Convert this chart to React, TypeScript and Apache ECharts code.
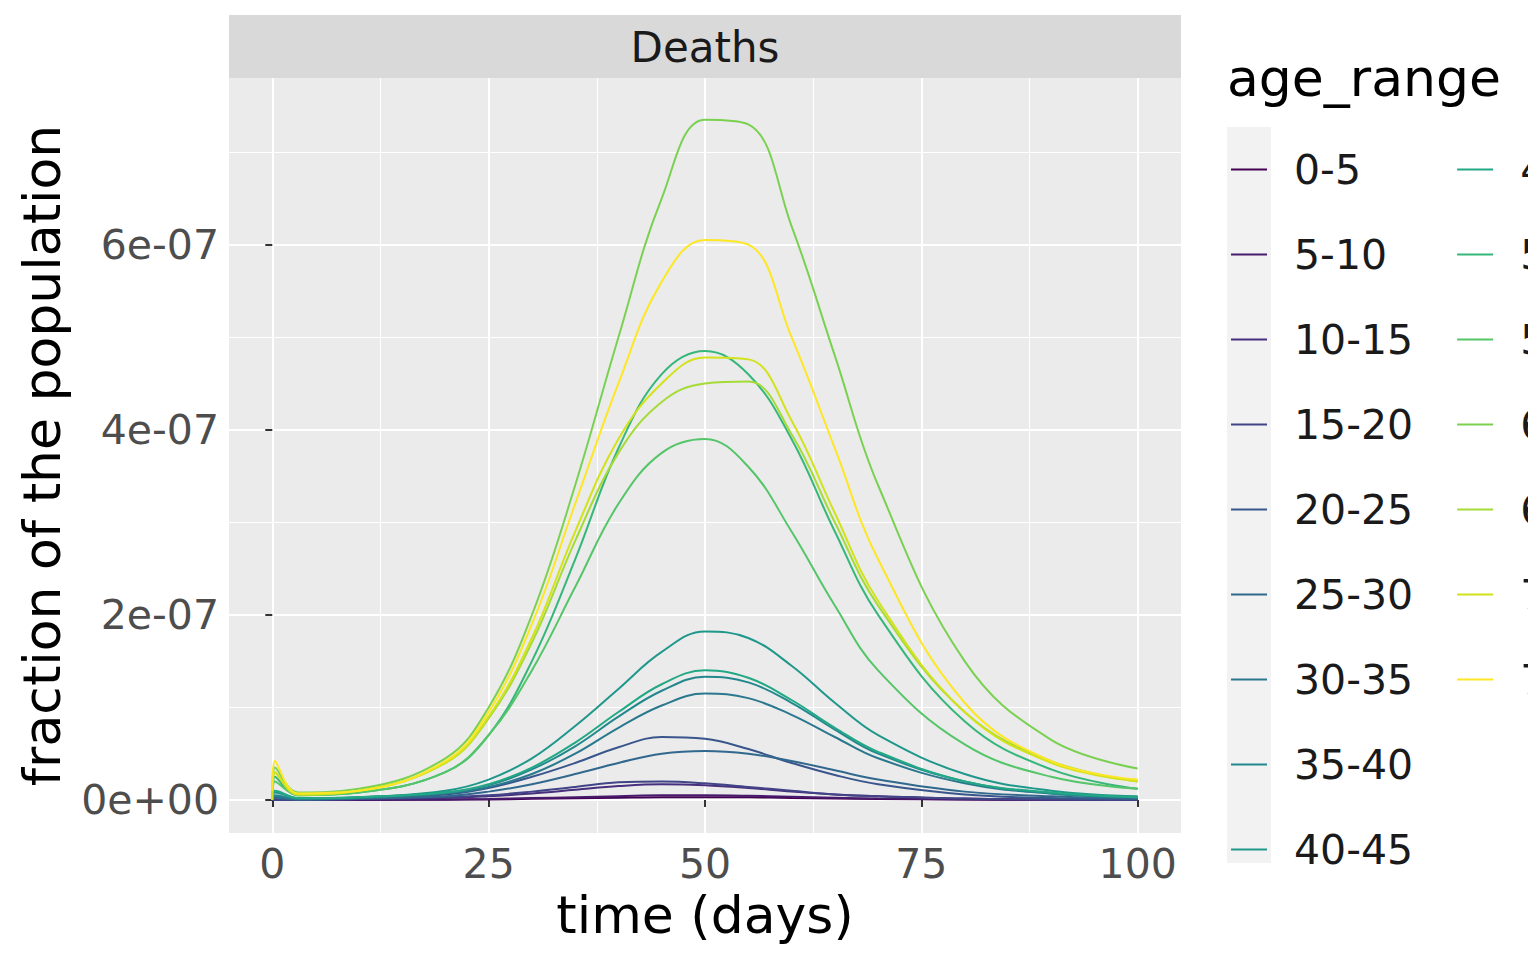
import * as echarts from 'echarts'
import { useEffect, useRef } from 'react'

// days sampled from the curves
const days = [0, 0.3, 3, 10, 20, 25, 30, 35, 40, 45, 50, 55, 60, 65, 70, 80, 90, 100]
// values in units of 1e-7 (fraction of the population)
const ageRanges = ['0-5', '5-10', '10-15', '15-20', '20-25', '25-30', '30-35', '35-40', '40-45', '45-50', '50-55', '55-60', '60-65', '65-70', '70-75', '75-80']
const colors = ['#440154', '#481A6C', '#472F7D', '#414487', '#39568C', '#31688E', '#2A788E', '#23888E', '#1F988B', '#22A884', '#35B779', '#54C568', '#7AD151', '#A5DB36', '#D2E21B', '#FDE725']

const d0_5 = [0, 0, 0, 0, 0.003, 0.006, 0.012, 0.018, 0.025, 0.03, 0.03, 0.028, 0.022, 0.016, 0.01, 0.004, 0.001, 0]
const d5_10 = [0, 0, 0, 0, 0.005, 0.01, 0.02, 0.03, 0.04, 0.05, 0.05, 0.045, 0.035, 0.025, 0.015, 0.006, 0.002, 0]
const d10_15 = [0, 0, 0, 0.01, 0.02, 0.04, 0.07, 0.11, 0.15, 0.17, 0.16, 0.13, 0.09, 0.06, 0.04, 0.015, 0.005, 0]
const d15_20 = [0, 0, 0, 0.01, 0.03, 0.05, 0.09, 0.14, 0.19, 0.2, 0.18, 0.14, 0.1, 0.06, 0.04, 0.015, 0.005, 0]
const d20_25 = [0, 0.02, 0.005, 0.02, 0.06, 0.13, 0.25, 0.4, 0.57, 0.68, 0.66, 0.55, 0.4, 0.27, 0.17, 0.06, 0.02, 0.01]
const d25_30 = [0, 0.02, 0.005, 0.015, 0.04, 0.09, 0.17, 0.28, 0.4, 0.5, 0.53, 0.5, 0.42, 0.32, 0.22, 0.09, 0.04, 0.015]
const d30_35 = [0, 0.04, 0.01, 0.02, 0.07, 0.14, 0.28, 0.5, 0.78, 1.02, 1.15, 1.1, 0.92, 0.68, 0.45, 0.18, 0.07, 0.03]
const d35_40 = [0, 0.05, 0.01, 0.03, 0.08, 0.16, 0.33, 0.58, 0.9, 1.18, 1.33, 1.27, 1.05, 0.76, 0.5, 0.2, 0.07, 0.03]
const d40_45 = [0, 0.08, 0.02, 0.03, 0.1, 0.22, 0.45, 0.8, 1.2, 1.6, 1.82, 1.75, 1.45, 1.05, 0.7, 0.28, 0.1, 0.04]
const d45_50 = [0, 0.1, 0.02, 0.03, 0.08, 0.17, 0.35, 0.62, 0.95, 1.25, 1.4, 1.32, 1.08, 0.78, 0.52, 0.2, 0.08, 0.03]
const d50_55 = [0, 0.25, 0.05, 0.08, 0.3, 0.7, 1.5, 2.6, 3.8, 4.6, 4.85, 4.6, 3.9, 2.9, 2.0, 0.85, 0.33, 0.12]
const d55_60 = [0, 0.2, 0.05, 0.08, 0.3, 0.7, 1.4, 2.3, 3.2, 3.75, 3.9, 3.6, 2.9, 2.1, 1.4, 0.6, 0.25, 0.12]
const d60_65 = [0.1, 0.35, 0.08, 0.12, 0.45, 1.0, 2.0, 3.4, 5.0, 6.5, 7.35, 7.3, 6.2, 4.8, 3.4, 1.5, 0.65, 0.34]
const d65_70 = [0, 0.3, 0.06, 0.1, 0.4, 0.88, 1.7, 2.8, 3.75, 4.3, 4.5, 4.52, 3.95, 3.0, 2.1, 0.95, 0.42, 0.2]
const d70_75 = [0, 0.3, 0.06, 0.1, 0.4, 0.9, 1.75, 2.9, 3.9, 4.5, 4.78, 4.76, 4.1, 3.1, 2.15, 0.95, 0.4, 0.2]
const d75_80 = [0.1, 0.42, 0.07, 0.1, 0.42, 0.95, 1.9, 3.2, 4.5, 5.6, 6.05, 6.0, 5.0, 3.8, 2.6, 1.05, 0.42, 0.22]
const seriesValues = [d0_5, d5_10, d10_15, d15_20, d20_25, d25_30, d30_35, d35_40, d40_45, d45_50, d50_55, d55_60, d60_65, d65_70, d70_75, d75_80]

const xMajor = [0, 25, 50, 75, 100]
const xMinor = [12.5, 37.5, 62.5, 87.5]
const yMajor = [0, 2, 4, 6]
const yMinor = [1, 3, 5, 7]

const FONT = 'DejaVu Sans'

const fmtY = (v: number) => (Math.round(v) === 0 ? '0e+00' : `${Math.round(v)}e-07`)

export default function App() {
  const ref = useRef<HTMLDivElement>(null)

  useEffect(() => {
    if (!ref.current) return
    const chart = echarts.init(ref.current, null, { renderer: 'svg' })
    const grid = { left: 221, right: 347, top: 70, bottom: 119 }
    const xBase = { type: 'value', min: -5, max: 105, gridIndex: 0 }
    const yBase = { type: 'value', min: -0.357, max: 7.8, gridIndex: 0 }
    chart.setOption({
      animation: false,
      textStyle: { fontFamily: FONT },
      grid: { ...grid, show: true, backgroundColor: '#EBEBEB', borderWidth: 0 },
      xAxis: [
        {
          ...xBase,
          name: 'time (days)',
          nameLocation: 'middle',
          nameGap: 56,
          nameTextStyle: { fontSize: 52, color: '#000', fontFamily: FONT },
          axisLine: { show: false },
          axisTick: { show: true, length: 7, lineStyle: { color: '#333', width: 2 }, customValues: xMajor },
          axisLabel: { fontSize: 41, color: '#4D4D4D', margin: 10, customValues: xMajor, fontFamily: FONT },
          splitLine: { show: true, lineStyle: { color: '#fff', width: 2 } },
        },
        {
          ...xBase,
          show: true,
          axisLine: { show: false },
          axisTick: { show: false, customValues: xMinor },
          axisLabel: { show: false, customValues: xMinor },
          splitLine: { show: true, lineStyle: { color: '#fff', width: 1 } },
        },
      ],
      yAxis: [
        {
          ...yBase,
          name: 'fraction of the population',
          nameLocation: 'middle',
          nameGap: 161,
          nameTextStyle: { fontSize: 52, color: '#000', fontFamily: FONT },
          axisLine: { show: false },
          axisTick: { show: true, length: 7, lineStyle: { color: '#333', width: 2 }, customValues: yMajor },
          axisLabel: { fontSize: 41, color: '#4D4D4D', margin: 10, customValues: yMajor, formatter: fmtY, fontFamily: FONT },
          splitLine: { show: true, lineStyle: { color: '#fff', width: 2 } },
        },
        {
          ...yBase,
          show: true,
          axisLine: { show: false },
          axisTick: { show: false, customValues: yMinor },
          axisLabel: { show: false, customValues: yMinor },
          splitLine: { show: true, lineStyle: { color: '#fff', width: 1 } },
        },
      ],
      legend: {
        orient: 'vertical',
        left: 1223,
        top: 141,
        icon: 'rect',
        itemWidth: 36,
        itemHeight: 2,
        itemGap: 44,
        padding: 0,
        textStyle: { fontSize: 41, color: '#1A1A1A', fontFamily: FONT, padding: [0, 0, 0, 22] },
        data: ageRanges,
      },
      graphic: [
        { type: 'rect', left: 1219, top: 119, shape: { width: 44, height: 736 }, style: { fill: '#F2F2F2' }, z: -1 },
        { type: 'rect', left: 221, top: 7, shape: { width: 952, height: 63 }, style: { fill: '#D9D9D9' } },
        {
          type: 'text', x: 697, y: 39,
          style: { text: 'Deaths', fontSize: 42, fill: '#1A1A1A', fontFamily: FONT, align: 'center', verticalAlign: 'middle' },
        },
        {
          type: 'text', x: 1219, y: 70,
          style: { text: 'age_range', fontSize: 52, fill: '#000', fontFamily: FONT, align: 'left', verticalAlign: 'middle' },
        },
      ],
      series: ageRanges.map((name, i) => ({
        name,
        type: 'line',
        smooth: 0.4,
        showSymbol: false,
        symbol: 'none',
        color: colors[i],
        lineStyle: { width: 2, color: colors[i] },
        data: days.map((d, j) => [d, seriesValues[i][j]]),
      })),
    })
    return () => chart.dispose()
  }, [])

  return <div ref={ref} style={{ width: 1520, height: 944 }} />
}
